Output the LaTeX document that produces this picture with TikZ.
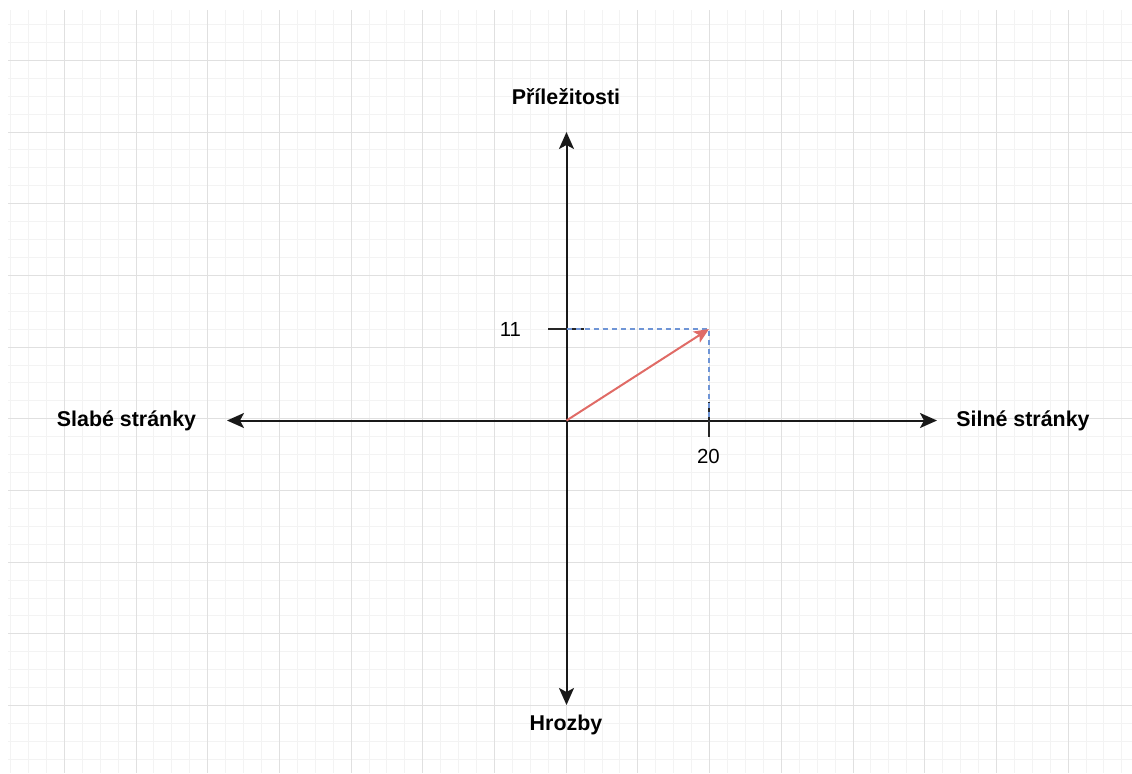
\documentclass[tikz,border=0pt]{standalone}
\usepackage{fontspec}
\setmainfont{Liberation Sans}
\usetikzlibrary{arrows.meta}
\definecolor{gridmajor}{HTML}{E0E0E0}
\definecolor{gridminor}{HTML}{F3F3F3}
\definecolor{vectorcolor}{HTML}{E06B66}
\definecolor{helpercolor}{HTML}{6F95D6}

\begin{document}
\begin{tikzpicture}[
        x=0.5pt,
        y=-0.5pt,
        axisarrow/.style={{Stealth[length=8.5pt,width=7.5pt,inset=2pt]}-{Stealth[length=8.5pt,width=7.5pt,inset=2pt]}, line width=1pt, black!90},
        vecarrow/.style={-{Stealth[length=7.5pt,width=6.5pt,inset=1.8pt]}, line width=1pt, vectorcolor},
        helper/.style={dash pattern=on 2.5pt off 2pt, line width=0.8pt, helpercolor},
        ticklen/.style={line width=1pt, black!85},
        axislabel/.style={font=\fontsize{10.7}{12}\selectfont\bfseries, inner sep=0pt},
        numlabel/.style={font=\fontsize{10.2}{12}\selectfont, inner sep=0pt}
    ]
        \useasboundingbox (0,0) rectangle (1132,773);

        \foreach \i in {0,...,62}
            \draw[gridminor, line width=0.5pt] ({10.525+17.925*\i},10) -- ({10.525+17.925*\i},773);
        \foreach \i in {0,...,41}
            \draw[gridminor, line width=0.5pt] (8,{24.45+17.925*\i}) -- (1132,{24.45+17.925*\i});
        \foreach \i in {0,...,14}
            \draw[gridmajor, line width=0.5pt] ({64.3+71.7*\i},10) -- ({64.3+71.7*\i},773);
        \foreach \i in {0,...,9}
            \draw[gridmajor, line width=0.5pt] (8,{60.3+71.7*\i}) -- (1132,{60.3+71.7*\i});

        \coordinate (origin) at (566.5,420.5);
        \coordinate (pleft) at (227,420.5);
        \coordinate (pright) at (937,420.5);
        \coordinate (ptop) at (566.5,132);
        \coordinate (pbottom) at (566.5,705);
        \coordinate (yval) at (566.5,329);
        \coordinate (xval) at (709,420.5);
        \coordinate (tip) at (709,329);

        \draw[axisarrow] (pleft) -- (pright);
        \draw[axisarrow] (pbottom) -- (ptop);

        \draw[ticklen] ([xshift=-9.2pt]yval) -- ([xshift=8.8pt]yval);
        \draw[ticklen] ([yshift=9.2pt]xval) -- ([yshift=-8.2pt]xval);
        \draw[helper] (yval) -- (tip) -- (xval);

        \draw[vecarrow] (origin) -- (tip);

        \node[axislabel] (opport) at (566,97) {Příležitosti};
        \node[axislabel] (threats) at (566,725) {Hrozby};
        \node[axislabel] (weak) at (126.5,421) {Slabé stránky};
        \node[axislabel] (strong) at (1023,421) {Silné stránky};
        \node[numlabel] (yvallabel) at (510.5,329.5) {11};
        \node[numlabel] (xvallabel) at (708.5,456.5) {20};
    \end{tikzpicture}
\end{document}
